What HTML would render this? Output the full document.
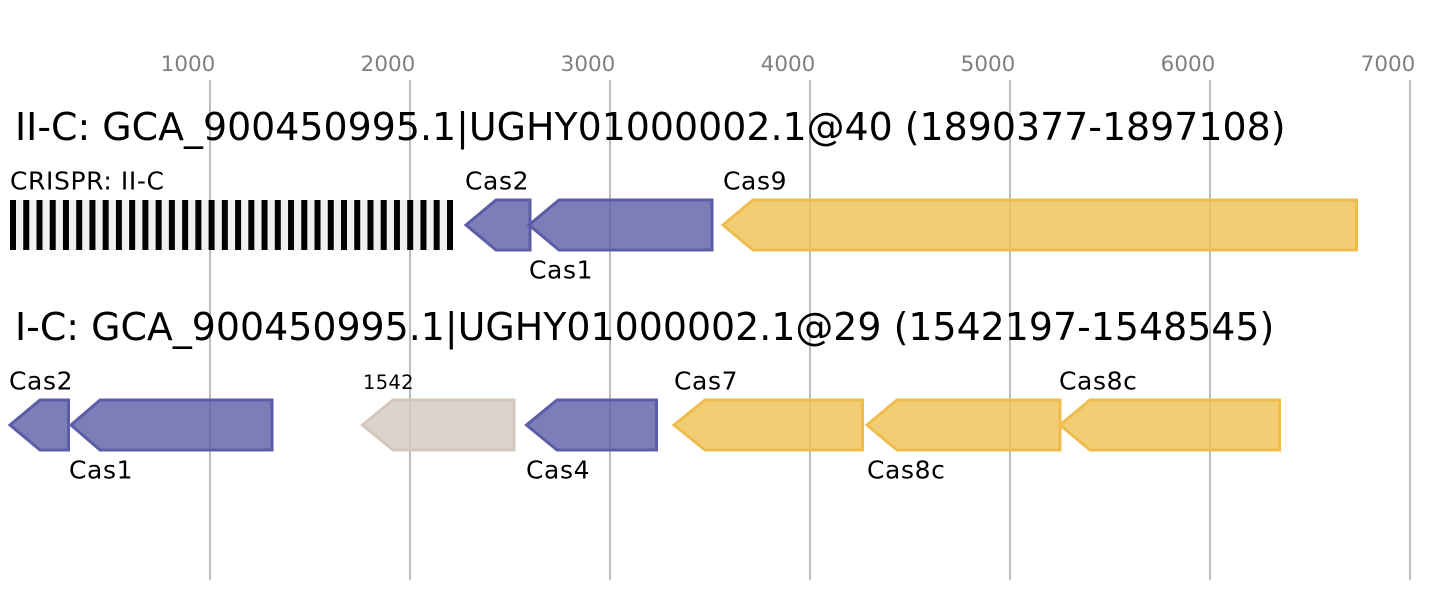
<!DOCTYPE html>
<html>
<head>
<meta charset="utf-8">
<style>
html,body{margin:0;padding:0;background:#fff;}
svg{display:block;}
text{font-family:"DejaVu Sans","Liberation Sans",sans-serif;}
</style>
</head>
<body>
<svg width="1446" height="600" viewBox="0 0 1446 600" xmlns="http://www.w3.org/2000/svg">
<rect width="1446" height="600" fill="#fff"/>
<!-- gridlines -->
<g stroke="#bdbdbd" stroke-width="2">
<line x1="210" y1="80" x2="210" y2="580"/>
<line x1="410" y1="80" x2="410" y2="580"/>
<line x1="610" y1="80" x2="610" y2="580"/>
<line x1="810" y1="80" x2="810" y2="580"/>
<line x1="1010" y1="80" x2="1010" y2="580"/>
<line x1="1210" y1="80" x2="1210" y2="580"/>
<line x1="1410" y1="80" x2="1410" y2="580"/>
</g>
<g fill="#808080" font-size="21.5" text-anchor="middle">
<text x="188" y="71">1000</text>
<text x="388" y="71">2000</text>
<text x="588" y="71">3000</text>
<text x="788" y="71">4000</text>
<text x="988" y="71">5000</text>
<text x="1188" y="71">6000</text>
<text x="1388" y="71">7000</text>
</g>

<!-- titles -->
<text x="15" y="140" font-size="37.9" fill="#000">II-C: GCA_900450995.1|UGHY01000002.1@40 (1890377-1897108)</text>
<text x="15" y="340" font-size="37.9" fill="#000">I-C: GCA_900450995.1|UGHY01000002.1@29 (1542197-1548545)</text>

<!-- CRISPR array -->
<rect x="10" y="200" width="443" height="50" fill="#f0f0f0"/>
<g fill="#000">
<rect x="10.00" y="200" width="6" height="50"/>
<rect x="23.24" y="200" width="6" height="50"/>
<rect x="36.48" y="200" width="6" height="50"/>
<rect x="49.72" y="200" width="6" height="50"/>
<rect x="62.96" y="200" width="6" height="50"/>
<rect x="76.20" y="200" width="6" height="50"/>
<rect x="89.44" y="200" width="6" height="50"/>
<rect x="102.68" y="200" width="6" height="50"/>
<rect x="115.92" y="200" width="6" height="50"/>
<rect x="129.16" y="200" width="6" height="50"/>
<rect x="142.40" y="200" width="6" height="50"/>
<rect x="155.64" y="200" width="6" height="50"/>
<rect x="168.88" y="200" width="6" height="50"/>
<rect x="182.12" y="200" width="6" height="50"/>
<rect x="195.36" y="200" width="6" height="50"/>
<rect x="208.60" y="200" width="6" height="50"/>
<rect x="221.84" y="200" width="6" height="50"/>
<rect x="235.08" y="200" width="6" height="50"/>
<rect x="248.32" y="200" width="6" height="50"/>
<rect x="261.56" y="200" width="6" height="50"/>
<rect x="274.80" y="200" width="6" height="50"/>
<rect x="288.04" y="200" width="6" height="50"/>
<rect x="301.28" y="200" width="6" height="50"/>
<rect x="314.52" y="200" width="6" height="50"/>
<rect x="327.76" y="200" width="6" height="50"/>
<rect x="341.00" y="200" width="6" height="50"/>
<rect x="354.24" y="200" width="6" height="50"/>
<rect x="367.48" y="200" width="6" height="50"/>
<rect x="380.72" y="200" width="6" height="50"/>
<rect x="393.96" y="200" width="6" height="50"/>
<rect x="407.20" y="200" width="6" height="50"/>
<rect x="420.44" y="200" width="6" height="50"/>
<rect x="433.68" y="200" width="6" height="50"/>
<rect x="447.00" y="200" width="6" height="50"/>
</g>

<!-- row 1 genes -->
<g stroke-width="3" stroke-linejoin="miter">
<polygon points="530,200 496,200 466,225 496,250 530,250" fill="#5b5ea6" fill-opacity="0.8" stroke="#5b5ea6"/>
<polygon points="712,200 559,200 529,225 559,250 712,250" fill="#5b5ea6" fill-opacity="0.8" stroke="#5b5ea6"/>
<polygon points="1356.5,200 753,200 723,225 753,250 1356.5,250" fill="#efc051" fill-opacity="0.8" stroke="#efbd4c"/>
</g>

<!-- row 2 genes -->
<g stroke-width="3" stroke-linejoin="miter">
<polygon points="68.5,400 40,400 10,425 40,450 68.5,450" fill="#5b5ea6" fill-opacity="0.8" stroke="#5b5ea6"/>
<polygon points="272,400 100,400 71,425 100,450 272,450" fill="#5b5ea6" fill-opacity="0.8" stroke="#5b5ea6"/>
<polygon points="514,400 393,400 362.5,425 393,450 514,450" fill="#d2c8c0" fill-opacity="0.8" stroke="#d3c7bd"/>
<polygon points="656.5,400 557,400 526.5,425 557,450 656.5,450" fill="#5b5ea6" fill-opacity="0.8" stroke="#5b5ea6"/>
<polygon points="862.5,400 705,400 674,425 705,450 862.5,450" fill="#efc051" fill-opacity="0.8" stroke="#efbd4c"/>
<polygon points="1060,400 897,400 867,425 897,450 1060,450" fill="#efc051" fill-opacity="0.8" stroke="#efbd4c"/>
<polygon points="1279.5,400 1090,400 1060,425 1090,450 1279.5,450" fill="#efc051" fill-opacity="0.8" stroke="#efbd4c"/>
</g>

<!-- labels -->
<g font-size="25" letter-spacing="0.6" fill="#000">
<text x="10" y="189.5">CRISPR: II-C</text>
<text x="465" y="189.5">Cas2</text>
<text x="529" y="278.5">Cas1</text>
<text x="723" y="189.5">Cas9</text>

<text x="9" y="389.5">Cas2</text>
<text x="69" y="478.5">Cas1</text>
<text x="526" y="478.5">Cas4</text>
<text x="674" y="389.5">Cas7</text>
<text x="867" y="478.5">Cas8c</text>
<text x="1059" y="389.5">Cas8c</text>
</g>
<text x="363" y="389" font-size="19.5" letter-spacing="0.3" fill="#000">1542</text>
</svg>
</body>
</html>
